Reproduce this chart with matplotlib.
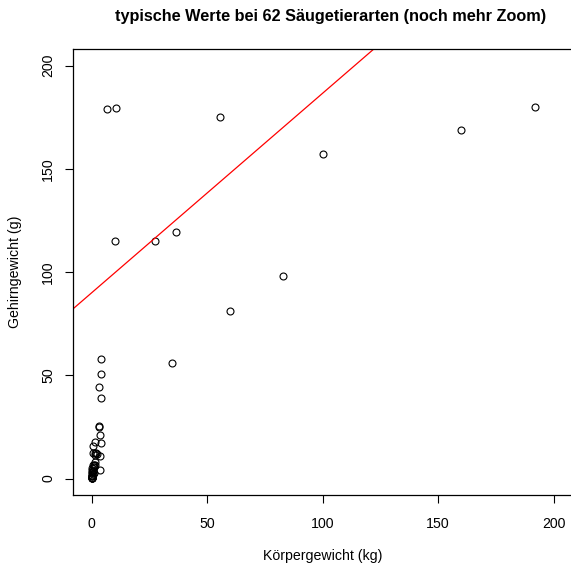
import numpy as np
import matplotlib.pyplot as plt

plt.rcParams['font.family'] = ['Liberation Sans', 'DejaVu Sans']

# Körpergewicht (kg) und Gehirngewicht (g) von 62 Säugetierarten
body = np.array([3.385, 0.48, 1.35, 465, 36.33, 27.66, 83, 1.04, 4.19, 0.425,
                 0.101, 0.92, 1, 0.005, 0.06, 3.5, 2, 1.7, 2547, 0.023,
                 187.1, 521, 0.785, 10, 3.3, 0.2, 1.41, 529, 207, 85,
                 0.75, 62, 6654, 3.5, 6.8, 35, 4.05, 0.12, 0.023, 0.01,
                 1.4, 250, 2.5, 55.5, 100, 52.16, 10.55, 0.55, 60, 3.6,
                 4.288, 0.28, 0.075, 0.122, 0.048, 192, 3, 160, 0.9, 1.62,
                 0.104, 4.235])
brain = np.array([44.5, 15.5, 8.1, 423, 119.5, 115, 98.2, 5.5, 58, 6.4,
                  4, 5.7, 6.6, 0.14, 1, 10.8, 12.3, 6.3, 4603, 0.3,
                  419, 655, 3.5, 115, 25.6, 5, 17.5, 680, 406, 325,
                  12.3, 1320, 5712, 3.9, 179, 56, 17, 1, 0.4, 0.25,
                  12.5, 490, 12.1, 175, 157, 440, 179.5, 2.4, 81, 21,
                  39.2, 1.9, 1.2, 3, 0.33, 180, 25, 169, 2.6, 11.4,
                  2.5, 50.4])

slope, intercept = np.polyfit(body, brain, 1)

fig = plt.figure(figsize=(5.71, 5.66), dpi=100)
ax = fig.add_axes([0.128, 0.1254, 0.874, 0.788])

ax.plot(body, brain, 'o', mfc='none', mec='black', ms=5, mew=0.8, clip_on=True)
ax.axline((0, intercept), slope=slope, color='red', lw=0.9)

ax.set_xlim(-8, 208)
ax.set_ylim(-8, 208)
ax.set_xticks([0, 50, 100, 150, 200])
ax.set_yticks([0, 50, 100, 150, 200])
ax.tick_params(labelsize=10.2, length=6, width=0.8)
ax.tick_params(axis='x', pad=10)
ax.tick_params(axis='y', pad=7)
for lab in ax.get_yticklabels():
    lab.set_rotation(90)
    lab.set_va('center')

for s in ax.spines.values():
    s.set_linewidth(0.9)

ax.set_xlabel('Körpergewicht (kg)', fontsize=10.2, labelpad=13)
ax.set_ylabel('Gehirngewicht (g)', fontsize=10.2, labelpad=14)
ax.set_title('typische Werte bei 62 Säugetierarten (noch mehr Zoom)',
             fontsize=11.7, fontweight='bold', pad=20, x=0.516)

fig.savefig('out.png', dpi=100)
